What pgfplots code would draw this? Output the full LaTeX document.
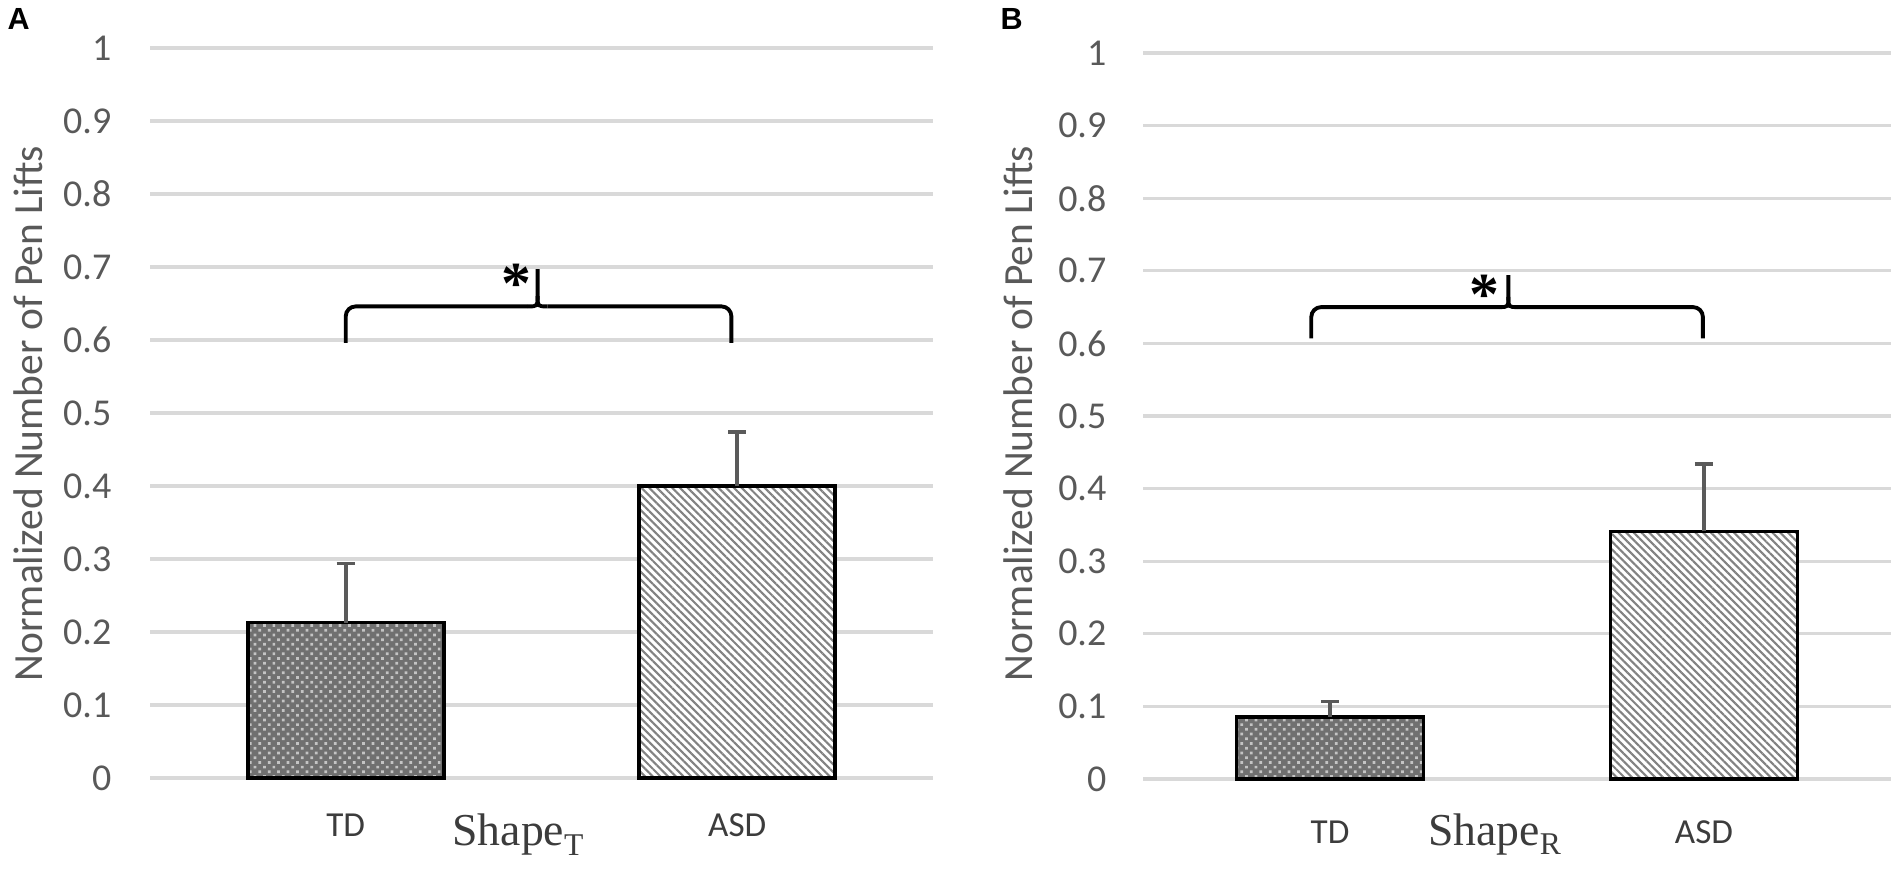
\documentclass[border=0pt]{standalone}
\usepackage{fontspec}
\setmainfont{Carlito}
\newfontfamily\timesf{Liberation Serif}
\newfontfamily\arialf{Liberation Sans}
\usepackage{pgfplots}
\pgfplotsset{compat=1.18}
\usetikzlibrary{patterns,patterns.meta}

\definecolor{gridc}{RGB}{217,217,217}
\definecolor{txt}{RGB}{89,89,89}
\definecolor{lbl}{RGB}{60,60,60}
\definecolor{tdfill}{RGB}{112,112,112}
\definecolor{tddot}{RGB}{196,196,196}
\definecolor{hatchc}{RGB}{130,130,130}
\definecolor{errc}{RGB}{90,90,90}

\pgfplotsset{
  panel/.style={
    scale only axis,
    xmin=-0.5, xmax=1.5, ymin=0, ymax=1,
    axis line style={draw=none},
    tick style={draw=none},
    major tick length=0pt,
    ytick={0,0.1,0.2,0.3,0.4,0.5,0.6,0.7,0.8,0.9,1},
    ymajorgrids,
    grid style={gridc, line width=0.9pt},
    xtick={0,1},
    xticklabels={TD,ASD},
    ybar, bar width=0.5, bar shift=0pt,
    clip=false,
    /pgf/number format/assume math mode=true,
    /pgf/number format/fixed,
    yticklabel style={font=\fontsize{10.8}{12}\selectfont, text=txt, anchor=east, inner sep=0pt, xshift=-3.8mm},
    xticklabel style={font=\fontsize{10}{12}\selectfont, text=lbl, anchor=center, inner sep=0pt},
  },
  tdbar/.style={fill=tdfill, draw=black, line width=1.1pt,
    postaction={pattern={Dots[angle=45,distance=1.9pt,radius=0.55pt]}, pattern color=tddot}},
  asdbar/.style={fill=white, draw=black, line width=1.1pt,
    postaction={pattern={Lines[angle=-45,distance=1.55pt,line width=0.6pt]}, pattern color=hatchc}},
  errs/.style={error bars/.cd, y dir=plus, y explicit,
    error bar style={errc, line width=1pt},
    error mark options={errc, rotate=90, mark size=2.6pt, line width=1pt}},
}

\begin{document}
\begin{tikzpicture}
\path[use as bounding box] (0,0) rectangle (19.02cm,8.71cm);

% ---------- Panel A ----------
\begin{axis}[panel, width=7.83cm, height=7.30cm, at={(1.50cm,0.93cm)}, anchor=south west,
  xticklabel style={yshift=-4.7mm}]
\addplot[tdbar, errs] coordinates {(0,0.213) +- (0,0.081)};
\addplot[asdbar, errs] coordinates {(1,0.400) +- (0,0.074)};
\draw[line width=1.1pt, rounded corners=2.8pt]
  (axis cs:0,0.596) -- (axis cs:0,0.646) -- (axis cs:0.465,0.646);
\draw[line width=1.1pt]
  (axis cs:0.465,0.646) .. controls (axis cs:0.49,0.646) .. (axis cs:0.49,0.660) -- (axis cs:0.49,0.697);
\draw[line width=1.1pt, rounded corners=2.8pt]
  (axis cs:0.985,0.596) -- (axis cs:0.985,0.646) -- (axis cs:0.515,0.646);
\draw[line width=1.1pt]
  (axis cs:0.515,0.646) .. controls (axis cs:0.49,0.646) .. (axis cs:0.49,0.660);
\node[inner sep=0pt, font=\timesf\bfseries\fontsize{17}{17}\selectfont] at (axis cs:0.435,0.677) {*};
\node[anchor=base, inner sep=0pt, text=lbl, font=\timesf\fontsize{13}{13}\selectfont] at (axis cs:0.44,-0.092)
  {Shape\raisebox{-2.8pt}{\fontsize{9}{9}\selectfont T}};
\end{axis}

% ---------- Panel B ----------
\begin{axis}[panel, width=7.48cm, height=7.26cm, at={(11.43cm,0.92cm)}, anchor=south west,
  xticklabel style={yshift=-5.3mm}, yticklabel style={xshift=0.2mm}]
\addplot[tdbar, errs] coordinates {(0,0.0858) +- (0,0.021)};
\addplot[asdbar, errs] coordinates {(1,0.341) +- (0,0.093)};
\draw[line width=1.1pt, rounded corners=2.8pt]
  (axis cs:-0.05,0.607) -- (axis cs:-0.05,0.650) -- (axis cs:0.452,0.650);
\draw[line width=1.1pt]
  (axis cs:0.452,0.650) .. controls (axis cs:0.477,0.650) .. (axis cs:0.477,0.664) -- (axis cs:0.477,0.694);
\draw[line width=1.1pt, rounded corners=2.8pt]
  (axis cs:0.997,0.607) -- (axis cs:0.997,0.650) -- (axis cs:0.502,0.650);
\draw[line width=1.1pt]
  (axis cs:0.502,0.650) .. controls (axis cs:0.477,0.650) .. (axis cs:0.477,0.664);
\node[inner sep=0pt, font=\timesf\bfseries\fontsize{17}{17}\selectfont] at (axis cs:0.413,0.667) {*};
\node[anchor=base, inner sep=0pt, text=lbl, font=\timesf\fontsize{13}{13}\selectfont] at (axis cs:0.44,-0.091)
  {Shape\raisebox{-2.8pt}{\fontsize{9}{9}\selectfont R}};
\end{axis}

% axis titles and panel letters
\node[rotate=90, inner sep=0pt, text=txt, font=\fontsize{11.8}{12}\selectfont] at (0.28cm,4.575cm) {Normalized Number of Pen Lifts};
\node[rotate=90, inner sep=0pt, text=txt, font=\fontsize{11.8}{12}\selectfont] at (10.18cm,4.575cm) {Normalized Number of Pen Lifts};
\node[anchor=north west, inner sep=0pt, font=\arialf\bfseries\fontsize{8.7}{9}\selectfont] at (0.07cm,8.63cm) {A};
\node[anchor=north west, inner sep=0pt, font=\arialf\bfseries\fontsize{8.7}{9}\selectfont] at (10.00cm,8.63cm) {B};
\end{tikzpicture}
\end{document}
